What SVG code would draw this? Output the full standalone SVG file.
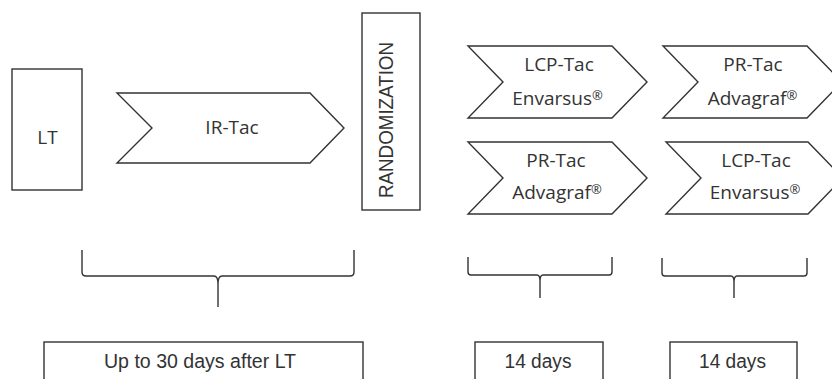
<svg xmlns="http://www.w3.org/2000/svg" width="832" height="379" viewBox="0 0 832 379">
<style>
.box{fill:#fff;stroke:#333;stroke-width:1.4}
.brace{fill:none;stroke:#333;stroke-width:1.4}
.t{font-family:"Open Sans","DejaVu Sans",sans-serif;font-size:19px;fill:#333;text-anchor:middle}
.r{font-size:13px}
.a{font-family:"Liberation Sans",Arial,sans-serif;font-size:20px;fill:#333;text-anchor:middle}
</style>
<rect width="832" height="379" fill="#fff"/>
<g id="lt"><rect class="box" x="12" y="69" width="70" height="121"/><text class="t" x="47.5" y="144">LT</text></g>
<g id="ir-tac"><path class="box" d="M117,93 L310,93 L344,128 L310,163 L117,163 L152,128 Z"/><text class="t" x="232" y="134">IR-Tac</text></g>
<g id="randomization"><rect class="box" x="362" y="13" width="58" height="197"/><text class="a" transform="translate(393,120) rotate(-90)" textLength="156" lengthAdjust="spacingAndGlyphs">RANDOMIZATION</text></g>
<g id="lcp1"><path class="box" d="M468,46 L612,46 L647,82 L612,118 L468,118 L503,82 Z"/><text class="t" x="559" y="71">LCP-Tac</text><text class="t" x="557.5" y="105">Envarsus<tspan class="r" dy="-5">®</tspan></text></g>
<g id="pr1"><path class="box" d="M468,142 L612,142 L647,178 L612,214 L468,214 L503,178 Z"/><text class="t" x="556" y="167">PR-Tac</text><text class="t" x="557" y="199">Advagraf<tspan class="r" dy="-5">®</tspan></text></g>
<g id="pr2"><path class="box" d="M663,46 L807,46 L842,82 L807,118 L663,118 L698,82 Z"/><text class="t" x="753" y="71">PR-Tac</text><text class="t" x="752.5" y="105">Advagraf<tspan class="r" dy="-5">®</tspan></text></g>
<g id="lcp2"><path class="box" d="M666,142 L808,142 L843,178 L808,214 L666,214 L701,178 Z"/><text class="t" x="756" y="167">LCP-Tac</text><text class="t" x="755" y="199">Envarsus<tspan class="r" dy="-5">®</tspan></text></g>
<g id="connectors">
<path class="brace" d="M82,250 L82,272 Q82,276 86,276 L214,276 Q218,276 218,284 L218,307 M218,307 L218,284 Q218,276 222,276 L350,276 Q354,276 354,272 L354,250"/>
<path class="brace" d="M468,257 L468,272 Q468,275 471,275 L537,275 Q540,275 540,281 L540,298 M540,281 Q540,275 543,275 L609,275 Q612,275 612,272 L612,257"/>
<path class="brace" d="M662,258 L662,273 Q662,276 665,276 L731,276 Q734,276 734,282 L734,298 M734,282 Q734,276 737,276 L804,276 Q807,276 807,273 L807,258"/>
</g>
<g id="dur1"><rect class="box" x="44" y="342" width="319" height="50"/><text class="a" x="200" y="368" textLength="192" lengthAdjust="spacingAndGlyphs">Up to 30 days after LT</text></g>
<g id="dur2"><rect class="box" x="475" y="342" width="128" height="50"/><text class="a" x="538" y="368" textLength="67" lengthAdjust="spacingAndGlyphs">14 days</text></g>
<g id="dur3"><rect class="box" x="670" y="342" width="127" height="50"/><text class="a" x="732.5" y="368" textLength="67" lengthAdjust="spacingAndGlyphs">14 days</text></g>
</svg>
